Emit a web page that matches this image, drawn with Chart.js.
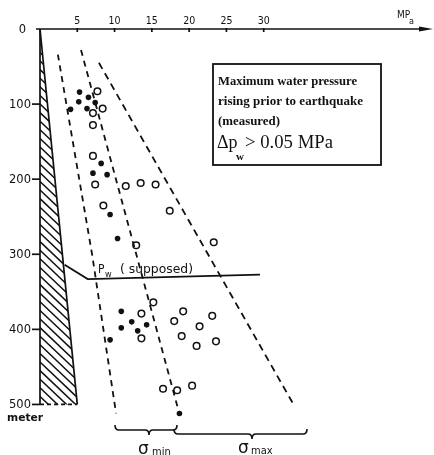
<!DOCTYPE html>
<html><head><meta charset="utf-8">
<script src="https://cdn.jsdelivr.net/npm/chart.js@4/dist/chart.umd.min.js"></script>
<style>html,body{margin:0;padding:0;background:#fff}#wrap{width:434px;height:455px}</style>
</head><body><div id="wrap"><canvas id="c" width="434" height="455"></canvas></div>
<script>
// ---- data (pressure in MPa, depth in metres) ----
const xTicks = [5, 10, 15, 20, 25, 30];
const yTicks = [0, 100, 200, 300, 400, 500];
const filledP = [5.3, 5.2, 6.5, 7.4, 4.1, 6.3, 8.2, 7.1, 9.0, 9.4, 10.4, 10.9, 12.3, 10.9, 14.3, 13.1, 9.4, 18.7];
const filledD = [84, 97, 91, 98, 107, 106, 179, 192, 194, 247, 279, 376, 390, 398, 394, 402, 414, 512];
const openP = [7.7, 7.1, 8.4, 7.1, 7.1, 7.4, 11.5, 13.5, 15.5, 8.5, 17.4, 12.9, 23.3, 15.2, 13.6, 19.2, 18.0, 23.1, 21.4, 13.6, 19.0, 21.0, 23.6, 16.5, 18.4, 20.4];
const openD = [83, 112, 106, 128, 169, 207, 209, 205, 207, 235, 242, 288, 284, 364, 379, 376, 389, 382, 396, 412, 409, 422, 416, 479, 481, 475];
const sminLowP = [2.4, 7.0, 10.2];
const sminLowD = [34, 301, 512];
const sminHighP = [5.5, 18.6];
const sminHighD = [28, 509];
const smaxP = [7.9, 34.0];
const smaxD = [45, 500];
const pwP = [3.3, 6.4, 29.5];
const pwD = [314, 333, 327];
const hydroP = [0, 0, 5, 0];
const hydroD = [0, 500, 500, 0];

const pts = (xs, ys) => xs.map((x, i) => ({x: x, y: ys[i]}));
const INK = '#111';
const HYDRO_INDEX = 6;

const canvas = document.getElementById('c');

const lineDs = (data, dash) => ({
  data: data, showLine: true, pointRadius: 0, borderColor: INK, borderWidth: 1.8,
  borderDash: dash, fill: false, tension: 0, clip: false
});

function fitText(ctx, txt, x, y, w, family, weight, size) {
  ctx.font = weight + ' ' + size + 'px ' + family;
  const m = ctx.measureText(txt).width;
  ctx.save();
  ctx.translate(x, y);
  ctx.scale(w / m, 1);
  ctx.fillText(txt, 0, 0);
  ctx.restore();
}

function brace(ctx, x1, x2, y, tip, h) {
  ctx.beginPath();
  ctx.moveTo(x1, y - h);
  ctx.quadraticCurveTo(x1, y, x1 + 4, y);
  ctx.lineTo(tip - 4, y);
  ctx.quadraticCurveTo(tip, y, tip, y + h);
  ctx.quadraticCurveTo(tip, y, tip + 4, y);
  ctx.lineTo(x2 - 4, y);
  ctx.quadraticCurveTo(x2, y, x2, y - h);
  ctx.stroke();
}

const hatchPlugin = {
  id: 'hatch',
  beforeDatasetsDraw(chart) {
    const meta = chart.getDatasetMeta(HYDRO_INDEX);
    const p = meta.data.map(e => ({x: e.x, y: e.y}));
    const ctx = chart.ctx;
    ctx.save();
    ctx.beginPath();
    p.forEach((q, i) => i ? ctx.lineTo(q.x, q.y) : ctx.moveTo(q.x, q.y));
    ctx.closePath();
    ctx.clip();
    const minX = Math.min(...p.map(q => q.x)), maxX = Math.max(...p.map(q => q.x));
    const minY = Math.min(...p.map(q => q.y)), maxY = Math.max(...p.map(q => q.y));
    ctx.strokeStyle = INK; ctx.lineWidth = 1.5;
    ctx.beginPath();
    const w = maxX - minX;
    for (let c = minY - w - 10; c < maxY + 10; c += 8.6) {
      ctx.moveTo(minX - 2, c);
      ctx.lineTo(maxX + 2, c + (w + 4) * 0.95);
    }
    ctx.stroke();
    ctx.restore();
  }
};

const decor = {
  id: 'decor',
  afterDraw(chart) {
    const ctx = chart.ctx, xs = chart.scales.x, ys = chart.scales.y;
    const x0 = xs.getPixelForValue(0), y0 = ys.getPixelForValue(0);
    ctx.save();
    ctx.strokeStyle = INK; ctx.fillStyle = INK; ctx.lineWidth = 1.7;
    // x axis with arrow
    ctx.beginPath(); ctx.moveTo(x0 - 4, y0); ctx.lineTo(422, y0); ctx.stroke();
    ctx.beginPath(); ctx.moveTo(433, y0); ctx.lineTo(419, y0 - 2.5); ctx.lineTo(419, y0 + 2.5); ctx.closePath(); ctx.fill();
    // x ticks + labels
    ctx.font = '10.5px "DejaVu Sans Condensed", "DejaVu Sans"';
    ctx.textAlign = 'center'; ctx.textBaseline = 'alphabetic';
    xTicks.forEach(v => {
      const px = xs.getPixelForValue(v);
      ctx.beginPath(); ctx.moveTo(px, y0 - 1); ctx.lineTo(px, y0 + 3); ctx.stroke();
      ctx.fillText(String(v), px, y0 - 5);
    });
    // MPa
    ctx.textAlign = 'left';
    ctx.font = '10px "DejaVu Sans Condensed", "DejaVu Sans"';
    ctx.fillText('MP', 397, 18);
    ctx.font = '9px "DejaVu Sans Condensed", "DejaVu Sans"';
    ctx.fillText('a', 409, 24);
    // y ticks + labels
    ctx.font = '500 11.5px "DejaVu Sans"';
    ctx.textAlign = 'right';
    yTicks.forEach(v => {
      const py = ys.getPixelForValue(v);
      if (v > 0) { ctx.beginPath(); ctx.moveTo(x0 - 8, py); ctx.lineTo(x0, py); ctx.stroke(); }
      ctx.fillText(String(v), v === 0 ? 26 : 31, py + 4);
    });
    ctx.textAlign = 'left';
    fitText(ctx, 'meter', 7, ys.getPixelForValue(500) + 17, 36, '"DejaVu Sans Condensed", "DejaVu Sans"', 'bold', 11);
    // Pw label
    ctx.font = '12px "DejaVu Sans Condensed", "DejaVu Sans"';
    ctx.fillText('P', 98, 273);
    ctx.font = '9px "DejaVu Sans Condensed", "DejaVu Sans"';
    ctx.fillText('w', 105, 277);
    fitText(ctx, '( supposed)', 120, 273, 73, '"DejaVu Sans Condensed", "DejaVu Sans"', 'normal', 12);
    // text box
    ctx.lineWidth = 1.8;
    ctx.strokeRect(213, 64, 168, 101);
    const serif = '"Liberation Serif", "DejaVu Serif", serif';
    fitText(ctx, 'Maximum water pressure', 218, 85, 139, serif, 'bold', 12);
    fitText(ctx, 'rising prior to earthquake', 218, 105, 145, serif, 'bold', 12);
    fitText(ctx, '(measured)', 218, 125, 62, serif, 'bold', 12);
    ctx.font = '18px ' + serif;
    ctx.fillText('\u0394p', 217, 148);
    ctx.font = 'bold 11px ' + serif;
    ctx.fillText('w', 236, 160);
    fitText(ctx, '> 0.05 MPa', 245, 148, 88, serif, 'normal', 18);
    // braces
    ctx.lineWidth = 1.6;
    brace(ctx, 115, 177, 430, 149, 5);
    brace(ctx, 174, 307, 434, 252, 5);
    // sigma labels
    ctx.font = '17px "DejaVu Sans"';
    ctx.fillText('\u03C3', 138, 454);
    ctx.fillText('\u03C3', 238, 453);
    ctx.font = '11px "DejaVu Sans Condensed", "DejaVu Sans"';
    ctx.fillText('min', 152, 455);
    ctx.fillText('max', 251, 454);
    ctx.restore();
  }
};

new Chart(canvas, {
  type: 'scatter',
  data: {
    datasets: [
      { data: pts(filledP, filledD), pointRadius: 2.8, pointBackgroundColor: INK, pointBorderWidth: 0, showLine: false, clip: false },
      { data: pts(openP, openD), pointRadius: 3.3, pointBackgroundColor: 'rgba(0,0,0,0)', pointBorderColor: INK, pointBorderWidth: 1.5, showLine: false, clip: false },
      lineDs(pts(sminLowP, sminLowD), [6, 5]),
      lineDs(pts(sminHighP, sminHighD), [6, 5]),
      lineDs(pts(smaxP, smaxD), [7, 5]),
      lineDs(pts(pwP, pwD), []),
      { data: pts(hydroP, hydroD), showLine: true, pointRadius: 0, borderColor: INK, borderWidth: 1.7,
        fill: false, tension: 0, clip: false,
        segment: { borderDash: c => c.p0DataIndex === 1 ? [4, 3] : undefined } }
    ]
  },
  options: {
    responsive: false, animation: false, devicePixelRatio: 1,
    layout: { padding: { left: 40, top: 29, right: 0, bottom: 1.5 } },
    plugins: { legend: { display: false }, tooltip: { enabled: false } },
    scales: {
      x: { type: 'linear', display: false, min: 0, max: 52.1 },
      y: { type: 'linear', display: false, min: 0, max: 560, reverse: true }
    }
  },
  plugins: [hatchPlugin, decor]
});
</script>
</body></html>
